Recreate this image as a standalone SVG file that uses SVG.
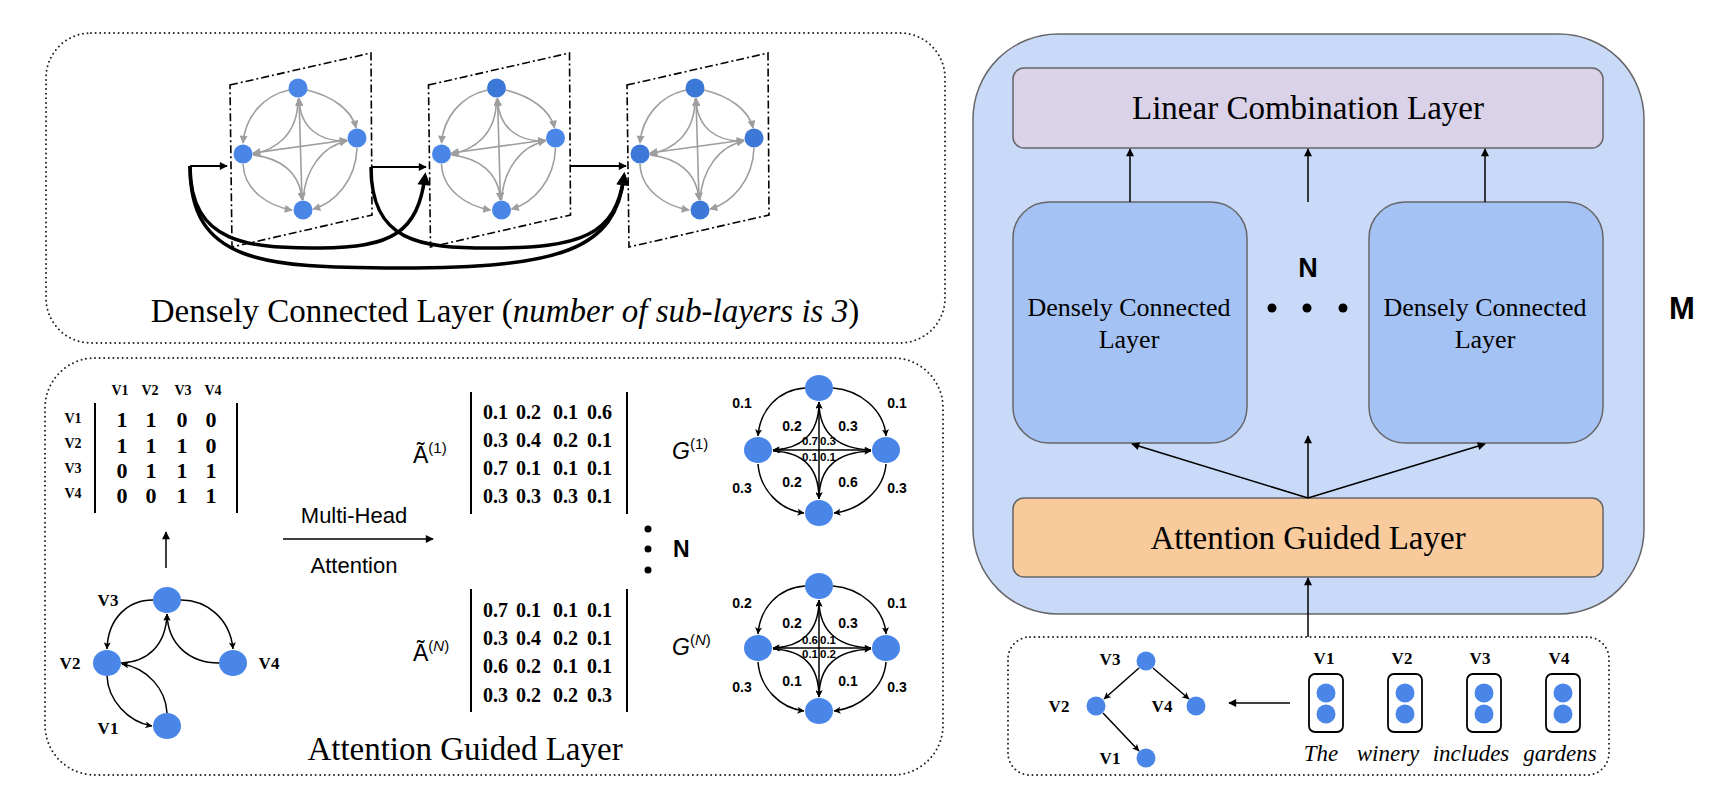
<svg xmlns="http://www.w3.org/2000/svg" xmlns:xlink="http://www.w3.org/1999/xlink" width="1730" height="802" viewBox="0 0 1730 802">
<style>
.dot{fill:none;stroke:#222;stroke-width:2;stroke-dasharray:0 4.6;stroke-linecap:round}
.serif{font-family:"Liberation Serif","Times New Roman",serif}
.sans{font-family:"Liberation Sans",Arial,sans-serif}
.title{font-family:"Liberation Serif","Times New Roman",serif;font-size:33px;fill:#000}
.lbl{font-family:"Liberation Serif","Times New Roman",serif;font-weight:bold;fill:#000}
.w{font-family:"Liberation Sans",Arial,sans-serif;font-weight:bold;font-size:14px;text-anchor:middle}
.ws{font-family:"Liberation Sans",Arial,sans-serif;font-weight:bold;font-size:11.5px}
.ge{fill:none;stroke:#9e9e9e;stroke-width:1.6;marker-end:url(#ag)}
.gb{fill:none;stroke:#000;stroke-width:1.5;marker-end:url(#as)}
.lite{fill:#4a86e8}
.dark{fill:#3c78d8}
.plane{fill:none;stroke:#000;stroke-width:1.6;stroke-dasharray:8 3 2 3}
.box{stroke:#666;stroke-width:1.5}
.conn{fill:none;stroke:#000;stroke-width:1.5;marker-end:url(#ah)}
.mat{font-family:"Liberation Serif","Times New Roman",serif;font-weight:bold;font-size:20px}
</style>
<defs>
<marker id="ah" viewBox="0 0 10 10" refX="9" refY="5" markerWidth="10" markerHeight="8" markerUnits="userSpaceOnUse" orient="auto-start-reverse"><path d="M0,0 L10,5 L0,10 z" fill="#000"/></marker>
<marker id="ahb" viewBox="0 0 10 10" refX="7" refY="5" markerWidth="19" markerHeight="13" markerUnits="userSpaceOnUse" orient="auto"><path d="M0,0 L10,5 L0,10 z" fill="#000"/></marker>
<marker id="as" viewBox="0 0 10 10" refX="9.5" refY="5" markerWidth="8" markerHeight="7" markerUnits="userSpaceOnUse" orient="auto-start-reverse"><path d="M0,0 L10,5 L0,10 L2.5,5 z" fill="#000"/></marker>
<marker id="ag" viewBox="0 0 10 10" refX="9" refY="5" markerWidth="9" markerHeight="8" markerUnits="userSpaceOnUse" orient="auto-start-reverse"><path d="M0,0 L10,5 L0,10 z" fill="#9e9e9e"/></marker>
<g id="dcl-edges">
<path class="ge" d="M289,90 C262,96 245,118 243,143"/>
<path class="ge" d="M307,90 C332,96 352,110 356,128"/>
<path class="ge" d="M243,164 C244,190 268,206 292,210"/>
<path class="ge" d="M357,148 C356,180 335,203 313,209"/>
<path class="ge" style="marker-start:url(#ag)" d="M299,98 L302,200"/>
<path class="ge" style="marker-start:url(#ag)" d="M253,153 L347,140"/>
<path class="ge" d="M298,99 C298,135 275,150 253,154"/>
<path class="ge" d="M347,141 C320,142 300,128 299,99"/>
<path class="ge" d="M253,155 C280,158 300,172 302,200"/>
<path class="ge" d="M303,200 C305,170 322,146 347,141"/>
</g>
<g id="g-edges">
<path class="gb" d="M805,388 C778,390 760,410 758,436"/>
<path class="gb" d="M833,388 C860,390 884,410 886,436"/>
<path class="gb" d="M758,464 C760,490 780,510 804,513"/>
<path class="gb" d="M886,464 C884,490 860,510 834,513"/>
<path class="gb" style="marker-start:url(#as)" d="M819,402 L819,499"/>
<path class="gb" style="marker-start:url(#as)" d="M773,450 L871,450"/>
<path class="gb" d="M819,402 C819,435 800,449 773,450"/>
<path class="gb" d="M871,450 C840,449 819,435 819,402"/>
<path class="gb" d="M773,451 C800,452 819,465 819,499"/>
<path class="gb" d="M819,499 C819,465 840,452 871,451"/>
</g>
</defs>

<!-- ============ Densely connected layer (top-left) ============ -->
<g id="dcl-panel">
<rect class="dot" x="46" y="33" width="899" height="310" rx="45"/>
<g id="plane1">
<polygon class="plane" points="230,85 371,53 372,215 232,247"/>
<use xlink:href="#dcl-edges"/>
<g id="p1-nodes"><ellipse class="lite" cx="298" cy="88" rx="9.5" ry="9.5"/><ellipse class="lite" cx="243" cy="154" rx="9.5" ry="9.5"/><ellipse class="lite" cx="357" cy="138" rx="9.5" ry="9.5"/><ellipse class="lite" cx="303" cy="210" rx="9.5" ry="9.5"/></g>
</g>
<g id="plane2" transform="translate(198.5,0)">
<polygon class="plane" points="230,85 371,53 372,215 232,247"/>
<use xlink:href="#dcl-edges"/>
<g id="p2-nodes"><ellipse class="dark" cx="298" cy="88" rx="9.5" ry="9.5"/><ellipse class="lite" cx="243" cy="154" rx="9.5" ry="9.5"/><ellipse class="lite" cx="357" cy="138" rx="9.5" ry="9.5"/><ellipse class="lite" cx="303" cy="210" rx="9.5" ry="9.5"/></g>
</g>
<g id="plane3" transform="translate(397,0)">
<polygon class="plane" points="230,85 371,53 372,215 232,247"/>
<use xlink:href="#dcl-edges"/>
<g id="p3-nodes"><ellipse class="dark" cx="298" cy="88" rx="9.5" ry="9.5"/><ellipse class="dark" cx="243" cy="154" rx="9.5" ry="9.5"/><ellipse class="dark" cx="357" cy="138" rx="9.5" ry="9.5"/><ellipse class="dark" cx="303" cy="210" rx="9.5" ry="9.5"/></g>
</g>
<g id="dcl-connectors">
<path d="M190,166 L227,166" fill="none" stroke="#000" stroke-width="2" marker-end="url(#ah)"/>
<path d="M371,167 L426,167" fill="none" stroke="#000" stroke-width="2" marker-end="url(#ah)"/>
<path d="M570,166 L626,166" fill="none" stroke="#000" stroke-width="2" marker-end="url(#ah)"/>
<path d="M190,166 C190,245 250,248 320,248 C392,248 418,232 425,176" fill="none" stroke="#000" stroke-width="3.5" marker-end="url(#ahb)"/>
<path d="M190,166 C190,262 260,268 400,268 C560,268 616,250 624,176" fill="none" stroke="#000" stroke-width="3.5" marker-end="url(#ahb)"/>
<path d="M371,167 C371,242 420,248 490,248 C580,248 616,236 624,176" fill="none" stroke="#000" stroke-width="3.5" marker-end="url(#ahb)"/>
</g>
<text class="title" x="505" y="322" text-anchor="middle">Densely Connected Layer (<tspan font-style="italic">number of sub-layers is 3</tspan>)</text>
</g>

<!-- ============ Attention guided layer (bottom-left) ============ -->
<g id="agl-panel">
<rect class="dot" x="45" y="358" width="898" height="417" rx="50"/>
<g id="adj-matrix">
<g class="lbl" font-size="14" text-anchor="middle">
<text x="120" y="395">V1</text><text x="150" y="395">V2</text><text x="183" y="395">V3</text><text x="213" y="395">V4</text>
<text x="73" y="423">V1</text><text x="73" y="448">V2</text><text x="73" y="473">V3</text><text x="73" y="498">V4</text>
</g>
<g class="lbl" font-size="22" text-anchor="middle">
<text x="122" y="427">1</text><text x="151" y="427">1</text><text x="182" y="427">0</text><text x="211" y="427">0</text>
<text x="122" y="453">1</text><text x="151" y="453">1</text><text x="182" y="453">1</text><text x="211" y="453">0</text>
<text x="122" y="478">0</text><text x="151" y="478">1</text><text x="182" y="478">1</text><text x="211" y="478">1</text>
<text x="122" y="503">0</text><text x="151" y="503">0</text><text x="182" y="503">1</text><text x="211" y="503">1</text>
</g>
<path d="M95,403 V513 M237,403 V513" stroke="#000" stroke-width="2"/>
</g>
<path d="M166,568 L166,532" class="conn" id="adj-up"/>
<g id="dep-graph">
<path class="gb" d="M153,600 C128,600 108,618 107,649"/>
<path class="gb" d="M181,600 C206,600 230,618 233,649"/>
<path class="gb" d="M219,663 C190,663 168,645 167,614"/>
<path class="gb" d="M121,663 C148,662 166,645 167,614"/>
<path class="gb" d="M107,676 C108,700 128,722 152,726"/>
<path class="gb" d="M167,713 C166,690 148,668 122,664"/>
<g id="dg-v3"><ellipse class="lite" cx="167" cy="600" rx="14" ry="13"/></g>
<g id="dg-v2"><ellipse class="lite" cx="107" cy="663" rx="14" ry="13"/></g>
<g id="dg-v4"><ellipse class="lite" cx="233" cy="663" rx="14" ry="13"/></g>
<g id="dg-v1"><ellipse class="lite" cx="167" cy="726" rx="14" ry="13"/></g>
<g class="lbl" font-size="17" text-anchor="middle">
<text x="108" y="606">V3</text><text x="70" y="669">V2</text><text x="269" y="669">V4</text><text x="108" y="734">V1</text>
</g>
</g>
<g id="mha">
<path d="M283,539 L433,539" class="conn"/>
<text class="sans" font-size="22" x="354" y="523" text-anchor="middle">Multi-Head</text>
<text class="sans" font-size="22" x="354" y="573" text-anchor="middle">Attention</text>
</g>
<g id="a1-matrix">
<text class="sans" font-size="23" x="413" y="463">Ã<tspan font-size="15" dy="-10">(1)</tspan></text>
<path d="M471,392 V514 M627,392 V514" stroke="#000" stroke-width="2"/>
<g class="mat">
<text x="483" y="419">0.1</text><text x="516" y="419">0.2</text><text x="553" y="419">0.1</text><text x="587" y="419">0.6</text>
<text x="483" y="447">0.3</text><text x="516" y="447">0.4</text><text x="553" y="447">0.2</text><text x="587" y="447">0.1</text>
<text x="483" y="475">0.7</text><text x="516" y="475">0.1</text><text x="553" y="475">0.1</text><text x="587" y="475">0.1</text>
<text x="483" y="503">0.3</text><text x="516" y="503">0.3</text><text x="553" y="503">0.3</text><text x="587" y="503">0.1</text>
</g>
</g>
<g id="aN-matrix">
<text class="sans" font-size="23" x="413" y="661">Ã<tspan font-size="15" dy="-10">(<tspan font-style="italic">N</tspan>)</tspan></text>
<path d="M471,589 V712 M627,589 V712" stroke="#000" stroke-width="2"/>
<g class="mat">
<text x="483" y="617">0.7</text><text x="516" y="617">0.1</text><text x="553" y="617">0.1</text><text x="587" y="617">0.1</text>
<text x="483" y="645">0.3</text><text x="516" y="645">0.4</text><text x="553" y="645">0.2</text><text x="587" y="645">0.1</text>
<text x="483" y="673">0.6</text><text x="516" y="673">0.2</text><text x="553" y="673">0.1</text><text x="587" y="673">0.1</text>
<text x="483" y="702">0.3</text><text x="516" y="702">0.2</text><text x="553" y="702">0.2</text><text x="587" y="702">0.3</text>
</g>
</g>
<g id="vdots">
<circle cx="648" cy="529" r="3.5"/><circle cx="648" cy="549" r="3.5"/><circle cx="648" cy="570" r="3.5"/>
<text class="sans" font-weight="bold" font-size="23" x="673" y="557">N</text>
</g>
<g id="graph-G1">
<text class="sans" font-style="italic" font-size="23" x="672" y="459">G<tspan font-style="normal" font-size="15" dy="-10">(1)</tspan></text>
<use xlink:href="#g-edges"/>
<ellipse class="lite" cx="819" cy="388" rx="14" ry="13"/><ellipse class="lite" cx="758" cy="450" rx="14" ry="13"/><ellipse class="lite" cx="886" cy="450" rx="14" ry="13"/><ellipse class="lite" cx="819" cy="513" rx="14" ry="13"/>
<g class="w">
<text x="742" y="408">0.1</text><text x="897" y="408">0.1</text><text x="792" y="431">0.2</text><text x="848" y="431">0.3</text>
<text x="792" y="487">0.2</text><text x="848" y="487">0.6</text><text x="742" y="493">0.3</text><text x="897" y="493">0.3</text>
</g>
<g class="ws"><text x="818" y="445" text-anchor="end">0.7</text><text x="820" y="445">0.3</text><text x="818" y="461" text-anchor="end">0.1</text><text x="820" y="461">0.1</text></g>
</g>
<g id="graph-GN">
<text class="sans" font-style="italic" font-size="23" x="672" y="655">G<tspan font-style="normal" font-size="15" dy="-10">(<tspan font-style="italic">N</tspan>)</tspan></text>
<use xlink:href="#g-edges" y="198"/>
<ellipse class="lite" cx="819" cy="586" rx="14" ry="13"/><ellipse class="lite" cx="758" cy="648" rx="14" ry="13"/><ellipse class="lite" cx="886" cy="648" rx="14" ry="13"/><ellipse class="lite" cx="819" cy="711" rx="14" ry="13"/>
<g class="w">
<text x="742" y="608">0.2</text><text x="897" y="608">0.1</text><text x="792" y="628">0.2</text><text x="848" y="628">0.3</text>
<text x="792" y="686">0.1</text><text x="848" y="686">0.1</text><text x="742" y="692">0.3</text><text x="897" y="692">0.3</text>
</g>
<g class="ws"><text x="818" y="644" text-anchor="end">0.6</text><text x="820" y="644">0.1</text><text x="818" y="658" text-anchor="end">0.1</text><text x="820" y="658">0.2</text></g>
</g>
<text class="title" x="465" y="760" text-anchor="middle">Attention Guided Layer</text>
</g>

<!-- ============ Model overview (right) ============ -->
<g id="model">
<rect class="box" x="973" y="34" width="671" height="580" rx="85" fill="#c9daf8"/>
<g id="lcl"><rect class="box" x="1013" y="68" width="590" height="80" rx="11" fill="#d9d2e9"/><text class="title" x="1308" y="119" text-anchor="middle">Linear Combination Layer</text></g>
<g id="dcl-left"><rect class="box" x="1013" y="202" width="234" height="241" rx="36" fill="#a4c2f4"/><text class="serif" font-size="26" x="1129" y="316" text-anchor="middle">Densely Connected</text><text class="serif" font-size="26" x="1129" y="348" text-anchor="middle">Layer</text></g>
<g id="dcl-right"><rect class="box" x="1369" y="202" width="234" height="241" rx="36" fill="#a4c2f4"/><text class="serif" font-size="26" x="1485" y="316" text-anchor="middle">Densely Connected</text><text class="serif" font-size="26" x="1485" y="348" text-anchor="middle">Layer</text></g>
<g id="agl"><rect class="box" x="1013" y="498" width="590" height="79" rx="11" fill="#f9cb9c"/><text class="title" x="1308" y="549" text-anchor="middle">Attention Guided Layer</text></g>
<g id="hdots"><text class="sans" font-weight="bold" font-size="27" x="1308" y="277" text-anchor="middle">N</text><circle cx="1272" cy="308" r="4.5"/><circle cx="1307" cy="308" r="4.5"/><circle cx="1343" cy="308" r="4.5"/></g>
</g>
<text id="M" class="sans" font-weight="bold" font-size="31" x="1682" y="319" text-anchor="middle">M</text>

<g id="input">
<rect class="dot" x="1008" y="637" width="601" height="138" rx="22"/>
<g id="tree">
<path class="gb" d="M1139,668 L1104,699"/>
<path class="gb" d="M1153,668 L1189,699"/>
<path class="gb" d="M1103,713 L1139,751"/>
<g id="t-v3"><circle class="lite" cx="1146" cy="661" r="9.5"/></g>
<g id="t-v2"><circle class="lite" cx="1096" cy="706" r="9.5"/></g>
<g id="t-v4"><circle class="lite" cx="1196" cy="706" r="9.5"/></g>
<g id="t-v1"><circle class="lite" cx="1146" cy="758" r="9.5"/></g>
<g class="lbl" font-size="17" text-anchor="middle"><text x="1110" y="665">V3</text><text x="1059" y="712">V2</text><text x="1162" y="712">V4</text><text x="1110" y="764">V1</text></g>
</g>
<g id="tokens">
<g id="tok1"><rect x="1309" y="674" width="34" height="58" rx="6" fill="none" stroke="#000" stroke-width="1.8"/><circle class="lite" cx="1326" cy="693" r="9.5"/><circle class="lite" cx="1326" cy="714" r="9.5"/><text class="lbl" font-size="17" x="1324" y="664" text-anchor="middle">V1</text><text class="serif" font-style="italic" font-size="23" x="1321" y="761" text-anchor="middle">The</text></g>
<g id="tok2"><rect x="1388" y="674" width="34" height="58" rx="6" fill="none" stroke="#000" stroke-width="1.8"/><circle class="lite" cx="1405" cy="693" r="9.5"/><circle class="lite" cx="1405" cy="714" r="9.5"/><text class="lbl" font-size="17" x="1402" y="664" text-anchor="middle">V2</text><text class="serif" font-style="italic" font-size="23" x="1388" y="761" text-anchor="middle">winery</text></g>
<g id="tok3"><rect x="1467" y="674" width="34" height="58" rx="6" fill="none" stroke="#000" stroke-width="1.8"/><circle class="lite" cx="1484" cy="693" r="9.5"/><circle class="lite" cx="1484" cy="714" r="9.5"/><text class="lbl" font-size="17" x="1480" y="664" text-anchor="middle">V3</text><text class="serif" font-style="italic" font-size="23" x="1471" y="761" text-anchor="middle">includes</text></g>
<g id="tok4"><rect x="1546" y="674" width="34" height="58" rx="6" fill="none" stroke="#000" stroke-width="1.8"/><circle class="lite" cx="1563" cy="693" r="9.5"/><circle class="lite" cx="1563" cy="714" r="9.5"/><text class="lbl" font-size="17" x="1559" y="664" text-anchor="middle">V4</text><text class="serif" font-style="italic" font-size="23" x="1560" y="761" text-anchor="middle">gardens</text></g>
</g>
</g>

<g id="connectors">
<path class="conn" d="M1130,202 L1130,149"/>
<path class="conn" d="M1308,202 L1308,149"/>
<path class="conn" d="M1485,202 L1485,149"/>
<path class="conn" d="M1308,498 L1132,444"/>
<path class="conn" d="M1308,498 L1308,436"/>
<path class="conn" d="M1308,498 L1485,444"/>
<path class="conn" d="M1308,637 L1308,578"/>
<path class="conn" d="M1290,703 L1229,703"/>
</g>
</svg>
